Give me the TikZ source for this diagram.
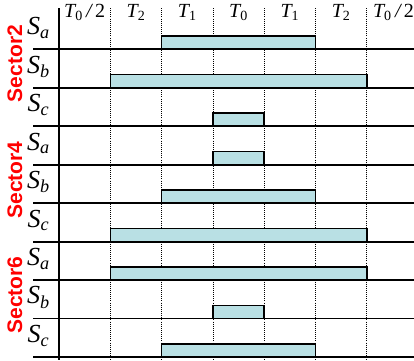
\documentclass[tikz,border=0pt]{standalone}
\usepackage{fontspec}
\setmainfont{Liberation Serif}
\setsansfont{Liberation Sans}
\usepackage{xcolor}
\usepackage{tikz}
\definecolor{pulsefill}{RGB}{185,224,228}

\begin{document}
\begin{tikzpicture}[x=1.8cm,y=1.35cm]
	    \tikzstyle{rail}=[line width=1.8pt]
	    \tikzstyle{grid}=[line width=0.8pt,dash pattern=on 0.8pt off 1.3pt]
	    \tikzstyle{pulse}=[draw,line width=1.5pt,fill=pulsefill]
	    \tikzstyle{sig}=[anchor=base,inner sep=0pt,font=\fontsize{26}{30}\selectfont\itshape]
	    \tikzstyle{tlab}=[anchor=base,inner sep=0pt,font=\fontsize{20}{24}\selectfont\itshape]
	    \tikzstyle{sector}=[rotate=90,text=red,font=\fontsize{21}{24}\selectfont\sffamily\bfseries]

	    \useasboundingbox (-1.15,-0.077) rectangle (6.92,9.28);

	    % time grid
	    \draw[grid] (1,9.07) -- (1,-0.077);
	    \draw[grid] (2,9.07) -- (2,-0.077);
	    \draw[grid] (3,9.07) -- (3,-0.077);
	    \draw[grid] (4,9.07) -- (4,-0.077);
	    \draw[grid] (5,9.07) -- (5,-0.077);
	    \draw[grid] (6,9.07) -- (6,-0.077);
	    \draw[rail] (0,9.07) -- (0,-0.077);

	    \node[tlab](t1) at (0.5,8.82){T\textsubscript{\upshape 0}\,/\,\upshape 2};
	    \node[tlab](t2) at (1.5,8.82){T\textsubscript{\upshape 2}};
	    \node[tlab](t3) at (2.5,8.82){T\textsubscript{\upshape 1}};
	    \node[tlab](t4) at (3.5,8.82){T\textsubscript{\upshape 0}};
	    \node[tlab](t5) at (4.5,8.82){T\textsubscript{\upshape 1}};
	    \node[tlab](t6) at (5.5,8.82){T\textsubscript{\upshape 2}};
	    \node[tlab](t7) at (6.52,8.82){T\textsubscript{\upshape 0}\,/\,\upshape 2};

	    % pulses
	    \draw[pulse] (2,8) rectangle (5,8.34);
	    \draw[pulse] (1,7) rectangle (6,7.34);
	    \draw[pulse] (3,6) rectangle (4,6.34);
	    \draw[pulse] (3,5) rectangle (4,5.34);
	    \draw[pulse] (2,4) rectangle (5,4.34);
	    \draw[pulse] (1,3) rectangle (6,3.34);
	    \draw[pulse] (1,2) rectangle (6,2.34);
	    \draw[pulse] (3,1) rectangle (4,1.34);
	    \draw[pulse] (2,0) rectangle (5,0.34);

	    % rows
	    \draw[rail] (-0.5,8) -- (6.92,8);
	    \draw[rail] (-0.5,7) -- (6.92,7);
	    \draw[rail] (-0.5,6) -- (6.92,6);
	    \draw[rail] (-0.5,5) -- (6.92,5);
	    \draw[rail] (-0.5,4) -- (6.92,4);
	    \draw[rail] (-0.5,3) -- (6.92,3);
	    \draw[rail] (-0.5,2) -- (6.92,2);
	    \draw[rail] (-0.5,1) -- (6.92,1);
	    \draw[rail] (-0.5,0) -- (6.92,0);

	    \node[sig](sa2) at (-0.4,8.38){S\textsubscript{a}};
	    \node[sig](sb2) at (-0.4,7.38){S\textsubscript{b}};
	    \node[sig](sc2) at (-0.4,6.38){S\textsubscript{c}};
	    \node[sig](sa4) at (-0.4,5.38){S\textsubscript{a}};
	    \node[sig](sb4) at (-0.4,4.38){S\textsubscript{b}};
	    \node[sig](sc4) at (-0.4,3.38){S\textsubscript{c}};
	    \node[sig](sa6) at (-0.4,2.38){S\textsubscript{a}};
	    \node[sig](sb6) at (-0.4,1.38){S\textsubscript{b}};
	    \node[sig](sc6) at (-0.4,0.38){S\textsubscript{c}};

	    \node[sector](sec2) at (-0.86,7.63){Sector2};
	    \node[sector](sec4) at (-0.86,4.6){Sector4};
	    \node[sector](sec6) at (-0.86,1.61){Sector6};
\end{tikzpicture}
\end{document}
